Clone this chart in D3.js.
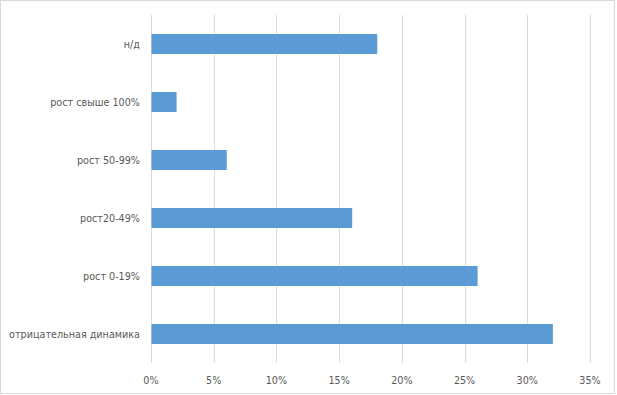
<!DOCTYPE html>
<html>
<head>
<meta charset="utf-8">
<script src="https://cdn.jsdelivr.net/npm/d3@7"></script>
<style>
  body { margin: 0; background: #fff; }
  svg text { font-family: "DejaVu Sans Condensed", "Liberation Sans", sans-serif; fill: #595959; }
</style>
</head>
<body>
<div id="chart"></div>
<script>
// категории сверху вниз
var categories = ["н/д", "рост свыше 100%", "рост 50-99%", "рост20-49%", "рост 0-19%", "отрицательная динамика"];
var values = [18, 2, 6, 16, 26, 32];
var ticks = [0, 5, 10, 15, 20, 25, 30, 35];

var W = 617, H = 395;
var plotLeft = 151, plotRight = 590, plotTop = 15, plotBottom = 363;

var svg = d3.select("#chart").append("svg")
    .attr("width", W)
    .attr("height", H);

// рамка
svg.append("rect")
    .attr("x", 0.5).attr("y", 0.5)
    .attr("width", W - 3).attr("height", H - 2)
    .attr("fill", "#fff")
    .attr("stroke", "#d9d9d9");

var x = d3.scaleLinear().domain([0, 35]).range([plotLeft, plotRight]);
var y = d3.scaleBand().domain(categories).range([plotTop, plotBottom]).paddingInner(0.655).paddingOuter(0.3275);

// сетка
svg.append("g")
    .selectAll("line")
    .data(ticks)
    .enter()
    .append("line")
    .attr("x1", d => Math.round(x(d)) + 0.5)
    .attr("x2", d => Math.round(x(d)) + 0.5)
    .attr("y1", plotTop)
    .attr("y2", plotBottom)
    .attr("stroke", "#d9d9d9")
    .attr("stroke-width", 1);

// столбики
svg.append("g")
    .selectAll("rect")
    .data(values)
    .enter()
    .append("rect")
    .attr("x", x(0) + 0.5)
    .attr("y", (d, i) => y(categories[i]))
    .attr("width", d => x(d) - x(0))
    .attr("height", y.bandwidth())
    .attr("fill", "#5b9bd5");

// подписи категорий
svg.append("g")
    .selectAll("text")
    .data(categories)
    .enter()
    .append("text")
    .attr("x", 140)
    .attr("y", d => y(d) + y.bandwidth() / 2)
    .attr("dy", "0.35em")
    .attr("text-anchor", "end")
    .attr("font-size", 10.7)
    .text(d => d);

// подписи оси X
svg.append("g")
    .selectAll("text")
    .data(ticks)
    .enter()
    .append("text")
    .attr("x", d => x(d))
    .attr("y", 380)
    .attr("dy", "0.35em")
    .attr("text-anchor", "middle")
    .attr("font-size", 10.7)
    .text(d => d + "%");
</script>
</body>
</html>
